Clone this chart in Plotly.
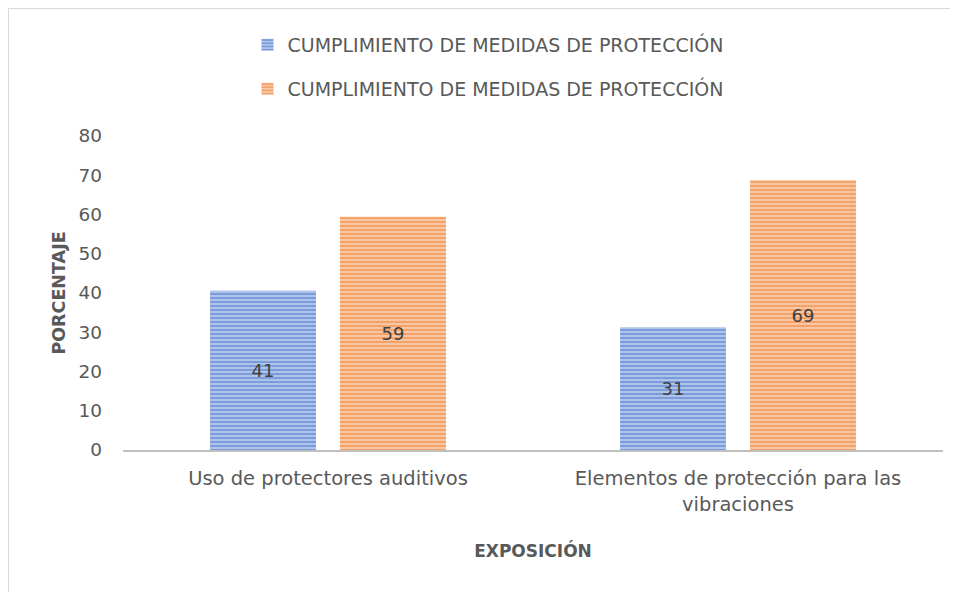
import plotly.graph_objects as go

categories = ["Uso de protectores auditivos", "Elementos de protección para las<br>vibraciones"]
series_names = ["CUMPLIMIENTO DE MEDIDAS DE PROTECCIÓN", "CUMPLIMIENTO DE MEDIDAS DE PROTECCIÓN"]
values_blue = [40.6, 31.3]
values_orange = [59.4, 68.7]
y_ticks = [0, 10, 20, 30, 40, 50, 60, 70, 80]

# the page places the figure 8px from the top-left corner
W, H = 950, 584
ml, mr, mt, mb = 115, 15, 128, 142
pw, ph = W - ml - mr, H - mt - mb

def px_to_paper_x(px):
    return (px - ml) / pw

def px_to_paper_y(py):
    return 1 - (py - mt) / ph

font_family = "DejaVu Sans, sans-serif"
txt_color = "#595959"

fig = go.Figure()
fig.add_trace(go.Bar(
    x=categories, y=values_blue, name=series_names[0], legend="legend",
    marker=dict(color="#7f9fdc", line=dict(width=0),
                pattern=dict(shape="-", fgcolor="#4a76c8", bgcolor="#aec3ea", size=4, solidity=0.5)),
    texttemplate="%{y:.0f}", textposition="inside", insidetextanchor="middle",
    textfont=dict(size=18, color="#404040", family=font_family),
))
fig.add_trace(go.Bar(
    x=categories, y=values_orange, name=series_names[1], legend="legend2",
    marker=dict(color="#f4a470", line=dict(width=0),
                pattern=dict(shape="-", fgcolor="#ed7d31", bgcolor="#f9c6a3", size=4, solidity=0.5)),
    texttemplate="%{y:.0f}", textposition="inside", insidetextanchor="middle",
    textfont=dict(size=18, color="#404040", family=font_family),
))

fig.update_layout(
    width=W, height=H,
    margin=dict(l=ml, r=mr, t=mt, b=mb),
    paper_bgcolor="white", plot_bgcolor="white",
    barmode="group", bargap=0.366, bargroupgap=0.185,
    showlegend=True,
    font=dict(family=font_family, color=txt_color, size=18),
    legend=dict(x=px_to_paper_x(480), xanchor="center", y=px_to_paper_y(37), yanchor="middle",
                font=dict(size=19, color=txt_color), bgcolor="rgba(0,0,0,0)", visible=True),
    legend2=dict(x=px_to_paper_x(480), xanchor="center", y=px_to_paper_y(81), yanchor="middle",
                 font=dict(size=19, color=txt_color), bgcolor="rgba(0,0,0,0)", visible=True),
    uniformtext=dict(mode="show", minsize=10),
    xaxis=dict(showline=True, linecolor="#bfbfbf", linewidth=2, ticks="",
               tickfont=dict(size=19.5, color=txt_color), ticklabelstandoff=10,
               title=dict(text="<b>EXPOSICIÓN</b>", font=dict(size=17, color=txt_color), standoff=30)),
    yaxis=dict(range=[0, 80], tickvals=y_ticks, showgrid=False, zeroline=False, showline=False,
               tickfont=dict(size=18.5, color=txt_color), ticklabelstandoff=20,
               title=dict(text="<b>PORCENTAJE</b>", font=dict(size=17.5, color=txt_color), standoff=8)),
    shapes=[dict(type="rect", xref="paper", yref="paper",
                 x0=px_to_paper_x(0.5), x1=px_to_paper_x(W + 5),
                 y0=px_to_paper_y(H + 5), y1=px_to_paper_y(0.5),
                 line=dict(color="#d9d9d9", width=1), fillcolor="rgba(0,0,0,0)", layer="below")],
)

fig.write_html("out.html")
